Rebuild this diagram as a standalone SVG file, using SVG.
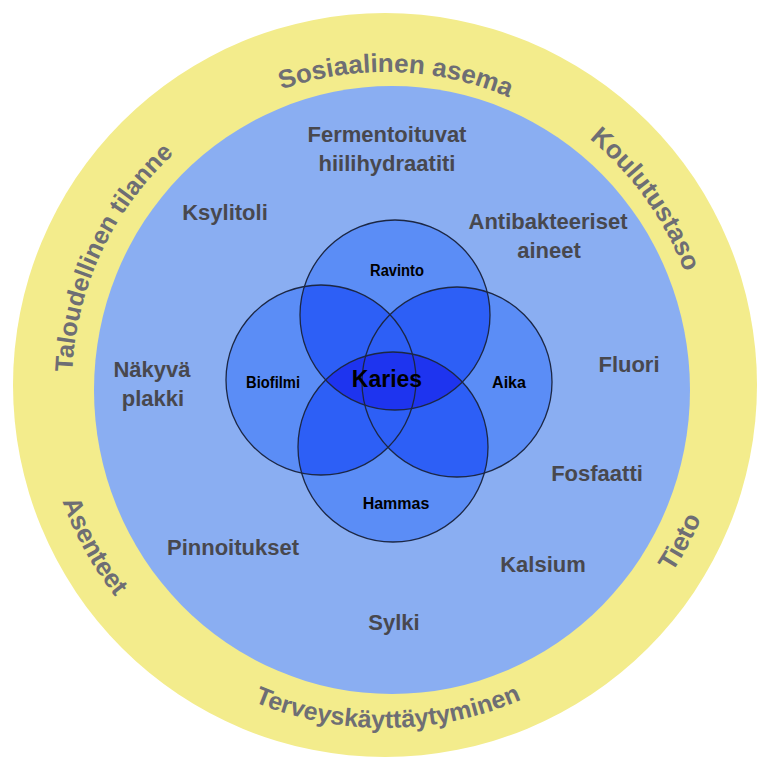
<svg xmlns="http://www.w3.org/2000/svg" width="757" height="760" viewBox="0 0 757 760">
<style>
.ring{font-family:"Liberation Sans",Arial,sans-serif;font-weight:bold;font-size:26px;fill:#6e6e74}
.lbl{font-family:"Liberation Sans",Arial,sans-serif;font-weight:bold;font-size:22px;fill:#48484e;text-anchor:middle}
.ven{font-family:"Liberation Sans",Arial,sans-serif;font-weight:bold;font-size:16px;fill:#000;text-anchor:middle}
.c1{fill:#5b8df6}
.c2{fill:#2d5ff6}
.c3{fill:#1e34ef}
.st{fill:none;stroke:#1c2744;stroke-width:1.3}
</style>
<defs>
<path id="pSos" d="M119.6,219.1 A313,313 0 0 1 661.4,238.0"/>
<path id="pTal" d="M128.6,564.5 A313,313 0 0 1 357.7,73.2"/>
<path id="pKou" d="M354.3,66.5 A320,320 0 0 1 676.2,517.7"/>
<path id="pTie" d="M397,727.8 A343,343 0 0 0 675.9,203.2"/>
<path id="pAse" d="M91,208.3 A343,343 0 0 0 379,727.9"/>
<path id="pTer" d="M89.5,559.1 A343,343 0 0 0 683.5,553.9"/>
<circle id="cT" cx="395" cy="315" r="95"/>
<circle id="cB" cx="393" cy="447" r="95"/>
<circle id="cL" cx="321" cy="380" r="95"/>
<circle id="cR" cx="457" cy="382" r="95"/>
<clipPath id="kT"><use href="#cT"/></clipPath>
<clipPath id="kB"><use href="#cB"/></clipPath>
<clipPath id="kL"><use href="#cL"/></clipPath>
<clipPath id="kR"><use href="#cR"/></clipPath>
</defs>

<g id="outer-ring">
<circle cx="385" cy="385" r="372" fill="#f3ec8c"/>
</g>
<g id="inner-disc">
<ellipse cx="392" cy="390" rx="298" ry="304" fill="#8aaef2"/>
</g>

<g id="ring-labels">
<g id="sosiaalinen-asema"><text class="ring"><textPath href="#pSos" startOffset="50%" text-anchor="middle">Sosiaalinen asema</textPath></text></g>
<g id="taloudellinen-tilanne"><text class="ring" style="font-size:25px"><textPath href="#pTal" startOffset="50%" text-anchor="middle">Taloudellinen tilanne</textPath></text></g>
<g id="koulutustaso"><text class="ring"><textPath href="#pKou" startOffset="50%" text-anchor="middle">Koulutustaso</textPath></text></g>
<g id="tieto"><text class="ring"><textPath href="#pTie" startOffset="50%" text-anchor="middle">Tieto</textPath></text></g>
<g id="asenteet"><text class="ring"><textPath href="#pAse" startOffset="50%" text-anchor="middle">Asenteet</textPath></text></g>
<g id="terveyskayttaytyminen"><text class="ring" style="font-size:25px"><textPath href="#pTer" startOffset="50%" text-anchor="middle">Terveyskäyttäytyminen</textPath></text></g>
</g>

<g id="inner-labels">
<g id="fermentoituvat"><text class="lbl" x="387" y="142">Fermentoituvat</text><text class="lbl" x="387" y="171">hiilihydraatiti</text></g>
<g id="ksylitoli"><text class="lbl" x="225" y="220">Ksylitoli</text></g>
<g id="antibakteeriset"><text class="lbl" x="548" y="229">Antibakteeriset</text><text class="lbl" x="549" y="258">aineet</text></g>
<g id="nakyva-plakki"><text class="lbl" x="152" y="377">Näkyvä</text><text class="lbl" x="153" y="406">plakki</text></g>
<g id="fluori"><text class="lbl" x="629" y="372">Fluori</text></g>
<g id="fosfaatti"><text class="lbl" x="597" y="481">Fosfaatti</text></g>
<g id="pinnoitukset"><text class="lbl" x="233" y="555">Pinnoitukset</text></g>
<g id="kalsium"><text class="lbl" x="543" y="572">Kalsium</text></g>
<g id="sylki"><text class="lbl" x="394" y="630">Sylki</text></g>
</g>

<g id="venn">
<g id="venn-fills">
<use href="#cT" class="c1"/><use href="#cB" class="c1"/><use href="#cL" class="c1"/><use href="#cR" class="c1"/>
<use href="#cT" class="c2" clip-path="url(#kL)"/>
<use href="#cT" class="c2" clip-path="url(#kR)"/>
<use href="#cB" class="c2" clip-path="url(#kL)"/>
<use href="#cB" class="c2" clip-path="url(#kR)"/>
<use href="#cL" class="c2" clip-path="url(#kR)"/>
<use href="#cT" class="c3" clip-path="url(#kB)"/>
</g>
<g id="ravinto"><use href="#cT" class="st"/><text class="ven" x="397" y="276" textLength="54" lengthAdjust="spacingAndGlyphs">Ravinto</text></g>
<g id="biofilmi"><use href="#cL" class="st"/><text class="ven" x="273" y="388" textLength="54" lengthAdjust="spacingAndGlyphs">Biofilmi</text></g>
<g id="aika"><use href="#cR" class="st"/><text class="ven" x="509" y="388">Aika</text></g>
<g id="hammas"><use href="#cB" class="st"/><text class="ven" x="396" y="509">Hammas</text></g>
<g id="karies"><text class="ven" x="387" y="387" style="font-size:23px">Karies</text></g>
</g>
<g id="connectors"/>
</svg>
